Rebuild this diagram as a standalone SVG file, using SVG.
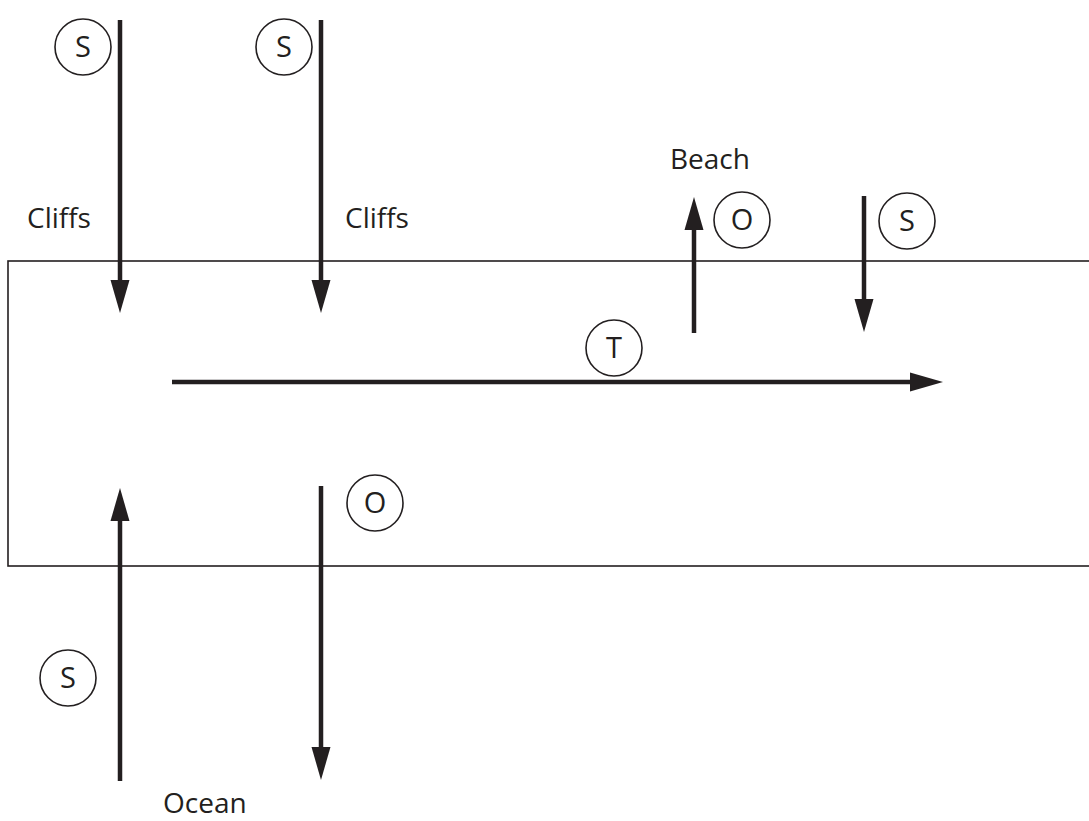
<svg xmlns="http://www.w3.org/2000/svg" width="1089" height="821" viewBox="0 0 1089 821">
<style>
.lbl{font-family:"Open Sans","Liberation Sans",sans-serif;font-size:28px;fill:#231f20}
.ctr{text-anchor:middle;font-size:29px}
.ring{fill:none;stroke:#231f20;stroke-width:1.6}
.arr{stroke:#231f20;stroke-width:4.5;fill:none;marker-end:url(#head)}
.box{fill:none;stroke:#231f20;stroke-width:1.6}
</style>
<defs>
<marker id="head" markerUnits="userSpaceOnUse" markerWidth="34" markerHeight="20" refX="0" refY="9.5" orient="auto" overflow="visible">
<path d="M0,0 L33,9.5 L0,19 Z" fill="#231f20"/>
</marker>
</defs>
<g id="zone"><rect class="box" x="8" y="261" width="1090" height="305"/></g>
<g id="connectors">
<line class="arr" x1="120" y1="20" x2="120" y2="280"/>
<line class="arr" x1="321" y1="20" x2="321" y2="280"/>
<line class="arr" x1="694" y1="333" x2="694" y2="230"/>
<line class="arr" x1="864" y1="196" x2="864" y2="299"/>
<line class="arr" x1="172" y1="382" x2="910" y2="382"/>
<line class="arr" x1="120" y1="781" x2="120" y2="521"/>
<line class="arr" x1="321" y1="486" x2="321" y2="747"/>
</g>
<g id="s1"><circle class="ring" cx="83" cy="47" r="28"/><text class="lbl ctr" x="83" y="57">S</text></g>
<g id="s2"><circle class="ring" cx="284" cy="47" r="28"/><text class="lbl ctr" x="284" y="57">S</text></g>
<g id="o1"><circle class="ring" cx="742" cy="220" r="28"/><text class="lbl ctr" x="742" y="230">O</text></g>
<g id="s3"><circle class="ring" cx="907" cy="221" r="28"/><text class="lbl ctr" x="907" y="231">S</text></g>
<g id="t1"><circle class="ring" cx="614" cy="348" r="28"/><text class="lbl ctr" x="614" y="358">T</text></g>
<g id="o2"><circle class="ring" cx="375" cy="503" r="28"/><text class="lbl ctr" x="375" y="513">O</text></g>
<g id="s4"><circle class="ring" cx="68" cy="678" r="28"/><text class="lbl ctr" x="68" y="688">S</text></g>
<g id="cliffs1"><text class="lbl" x="27" y="228">Cliffs</text></g>
<g id="cliffs2"><text class="lbl" x="345" y="228">Cliffs</text></g>
<g id="beach"><text class="lbl" x="670" y="169">Beach</text></g>
<g id="ocean"><text class="lbl" x="163" y="813">Ocean</text></g>
</svg>
